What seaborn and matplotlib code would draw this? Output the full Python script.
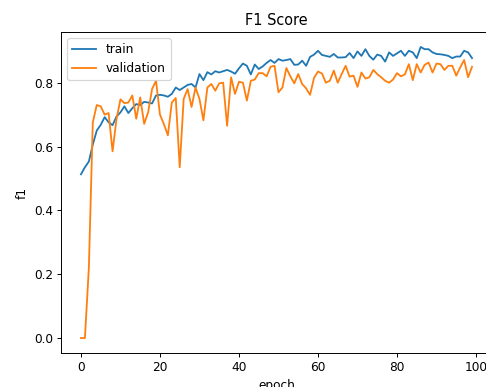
import numpy as np
import pandas as pd
import matplotlib
matplotlib.use("Agg")
import matplotlib.pyplot as plt
import seaborn as sns

# F1 per epoch
train_f1 = [
    0.513, 0.535, 0.553, 0.606, 0.650, 0.668, 0.692, 0.676, 0.667, 0.694,
    0.707, 0.726, 0.705, 0.720, 0.733, 0.730, 0.740, 0.738, 0.735, 0.760,
    0.762, 0.760, 0.756, 0.765, 0.785, 0.777, 0.785, 0.793, 0.796, 0.785,
    0.827, 0.808, 0.833, 0.826, 0.836, 0.832, 0.836, 0.840, 0.835, 0.828,
    0.845, 0.860, 0.853, 0.826, 0.857, 0.843, 0.851, 0.862, 0.871, 0.862,
    0.874, 0.869, 0.871, 0.874, 0.856, 0.857, 0.869, 0.853, 0.881, 0.888,
    0.900, 0.887, 0.884, 0.881, 0.890, 0.879, 0.879, 0.880, 0.893, 0.877,
    0.898, 0.884, 0.905, 0.884, 0.872, 0.888, 0.884, 0.866, 0.895, 0.884,
    0.892, 0.900, 0.884, 0.900, 0.895, 0.877, 0.912, 0.905, 0.905, 0.895,
    0.890, 0.889, 0.887, 0.884, 0.877, 0.882, 0.882, 0.900, 0.895, 0.877,
]
val_f1 = [
    0.000, 0.000, 0.220, 0.676, 0.730, 0.726, 0.700, 0.705, 0.585, 0.686,
    0.748, 0.736, 0.738, 0.760, 0.687, 0.754, 0.671, 0.707, 0.780, 0.806,
    0.700, 0.670, 0.635, 0.738, 0.752, 0.535, 0.749, 0.780, 0.724, 0.785,
    0.749, 0.682, 0.785, 0.796, 0.775, 0.798, 0.800, 0.665, 0.817, 0.765,
    0.803, 0.800, 0.744, 0.806, 0.810, 0.830, 0.830, 0.820, 0.850, 0.853,
    0.770, 0.785, 0.846, 0.820, 0.798, 0.827, 0.796, 0.782, 0.762, 0.815,
    0.835, 0.829, 0.800, 0.806, 0.838, 0.800, 0.827, 0.853, 0.819, 0.822,
    0.787, 0.832, 0.813, 0.817, 0.840, 0.827, 0.817, 0.806, 0.800, 0.810,
    0.830, 0.820, 0.826, 0.858, 0.808, 0.858, 0.832, 0.856, 0.863, 0.832,
    0.860, 0.858, 0.840, 0.853, 0.853, 0.822, 0.848, 0.871, 0.817, 0.850,
]
epochs = list(range(len(train_f1)))
series_names = ["train", "validation"]

df = pd.DataFrame({
    "epoch": epochs * 2,
    "f1": train_f1 + val_f1,
    "split": [series_names[0]] * len(train_f1) + [series_names[1]] * len(val_f1),
})

# reference looks like a default mpl figure shrunk to ~87%
s = 0.87
plt.rcParams.update({
    "font.size": 10 * s,
    "lines.linewidth": 1.5 * s,
    "axes.linewidth": 0.8 * s,
    "patch.linewidth": 1.0 * s,
    "xtick.major.size": 3.5 * s,
    "ytick.major.size": 3.5 * s,
    "xtick.major.width": 0.8 * s,
    "ytick.major.width": 0.8 * s,
    "xtick.major.pad": 3.5 * s,
    "ytick.major.pad": 3.5 * s,
    "axes.titlepad": 6 * s,
    "axes.labelpad": 4 * s,
})

fig = plt.figure(figsize=(4.86, 3.87), dpi=100)
# axes run past the right edge, like the cropped original
ax = fig.add_axes([61.4 / 486, 34.4 / 387, 430.2 / 486, 320.2 / 387])

sns.lineplot(data=df, x="epoch", y="f1", hue="split",
             palette=["#1f77b4", "#ff7f0e"], ax=ax)

ax.set_title("F1 Score")
ax.set_xlabel("epoch")
ax.set_ylabel("f1")
ax.set_xticks([0, 20, 40, 60, 80, 100])
ax.legend(loc="upper left")

fig.savefig("out.png", dpi=100)
plt.close(fig)
